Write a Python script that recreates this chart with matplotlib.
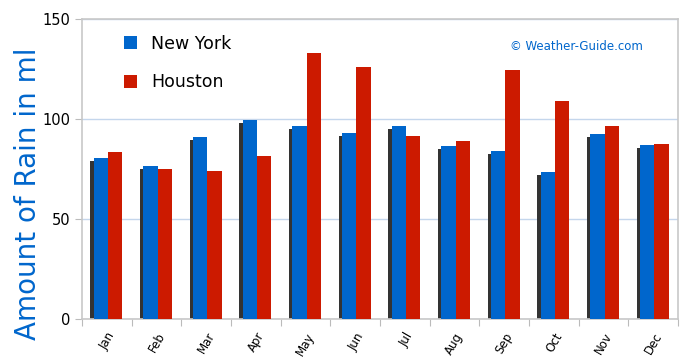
import matplotlib.pyplot as plt
import numpy as np

# monthly rainfall
months = ["Jan", "Feb", "Mar", "Apr", "May", "Jun", "Jul", "Aug", "Sep", "Oct", "Nov", "Dec"]
new_york = [80.5, 76.5, 91, 99.5, 96.5, 93, 96.5, 86.5, 84, 73.5, 92.5, 87]
houston = [83.5, 75, 74, 81.5, 133, 126, 91.5, 89, 124.5, 109, 96.5, 87.5]

blue = "#0066cc"
red = "#cc1a00"

fig = plt.figure(figsize=(6.9, 3.59), dpi=100)
ax = fig.add_axes([82 / 690, 1 - 319 / 359, 596 / 690, 300 / 359])

x = np.arange(len(months))
w = 0.29

# dark drop shadow behind the blue bars
ax.bar(x - 0.12 - 0.07, np.array(new_york) - 1.5, w, color="#333333", zorder=2)
ax.bar(x - 0.12, new_york, w, color=blue, zorder=3, label="New York")
ax.bar(x + 0.17, houston, w, color=red, zorder=3, label="Houston")

ax.set_xlim(-0.5, 11.5)
ax.set_ylim(0, 150)
ax.set_yticks([0, 50, 100, 150])
ax.yaxis.grid(True, color="#c4d6ec", linewidth=1, zorder=0)
ax.set_xticks(np.arange(-0.5, 12, 1), minor=False)
ax.set_xticklabels([])
ax.set_xticks(x, minor=True)
ax.set_xticklabels(months, minor=True, rotation=60, fontsize=8.5, ha="right",
                   rotation_mode="anchor")
ax.tick_params(axis="x", which="minor", length=0, pad=8)
ax.tick_params(axis="x", which="major", length=5, color="#bbbbbb")
ax.tick_params(axis="y", length=5, color="#bbbbbb", labelsize=10.5)
for s in ax.spines.values():
    s.set_color("#c8c8c8")
    s.set_linewidth(1.2)

fig.text(0.04, 0.46, "Amount of Rain in ml", rotation=90, color=blue,
         fontsize=20, ha="center", va="center")

fig.text(576 / 690, 1 - 47 / 359, "© Weather-Guide.com", color=blue,
         fontsize=8.5, ha="center", va="center")

leg = ax.legend(loc="upper left", bbox_to_anchor=(0.045, 1.0), frameon=False,
                fontsize=12.5, handlelength=0.75, handleheight=0.75,
                labelspacing=1.2, handletextpad=0.8)

fig.savefig("out.png", dpi=100)
